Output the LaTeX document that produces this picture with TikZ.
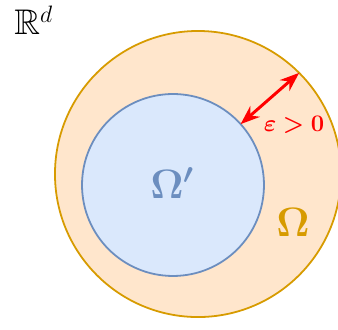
\documentclass[tikz,border=0pt]{standalone}
\usepackage{amsmath,amssymb,bm,xcolor}
\usetikzlibrary{arrows.meta}
\definecolor{omegafill}{HTML}{FFE6CC}
\definecolor{omegaline}{HTML}{D79B00}
\definecolor{subfill}{HTML}{DAE8FC}
\definecolor{subline}{HTML}{6C8EBF}
\begin{document}
\begin{tikzpicture}[>=Stealth,every node/.style={font=\fontsize{12}{14}\selectfont},line width=.9pt]
\useasboundingbox (0,0) rectangle (6,-5.841);
\node[circle,draw=omegaline,fill=omegafill,minimum size=5.078cm,inner sep=0pt,outer sep=0pt] (outer) at (3.515,-3.089) {};
\node[circle,draw=subline,fill=subfill,minimum size=3.23cm,inner sep=0pt,outer sep=0pt] (inner) at (3.071,-3.284) {};
\draw[<->,red,line width=1.5pt] (inner.42)--(outer.45);
\node[red] (eps) at (5.22,-2.21) {$\bm{\varepsilon>0}$};
\node[omegaline,font=\fontsize{20}{24}\selectfont] (om) at (5.2,-3.94) {$\bm{\Omega}$};
\node[subline,font=\fontsize{21}{25}\selectfont] (omsub) at (3.06,-3.25) {$\bm{\Omega'}$};
\node[font=\fontsize{18}{21}\selectfont] (space) at (0.6,-0.36) {$\mathbb{R}^d$};
\end{tikzpicture}
\end{document}
